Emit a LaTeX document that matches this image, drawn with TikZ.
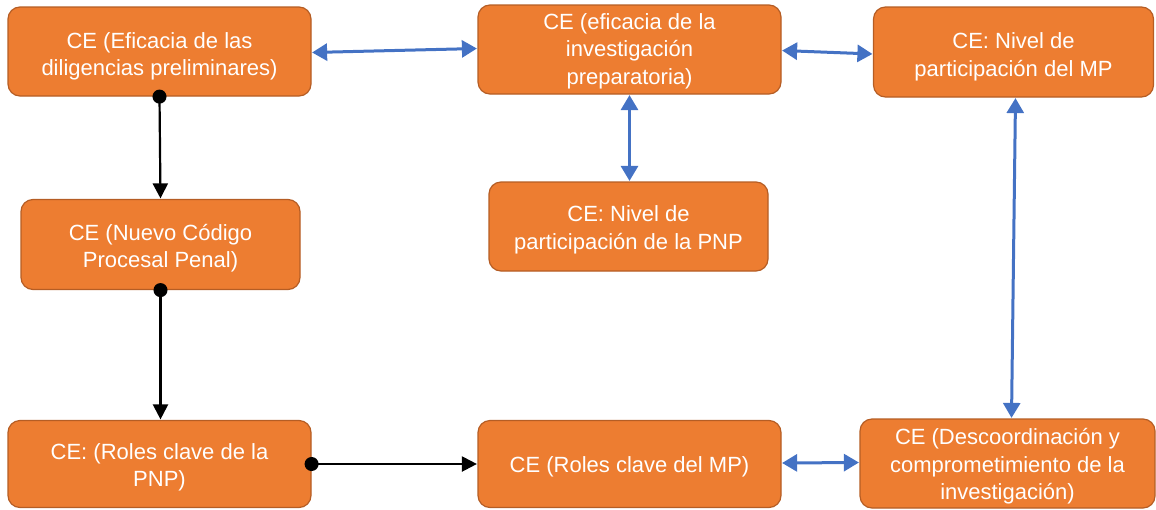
\documentclass[tikz,border=0pt]{standalone}
\usepackage{fontspec}
\setmainfont{Liberation Sans}
\usetikzlibrary{arrows.meta}
\definecolor{boxfill}{HTML}{ED7D31}
\definecolor{boxline}{HTML}{B55D24}
\definecolor{linkblue}{HTML}{4472C4}
\tikzset{
  cebox/.style={draw=boxline, line width=1.2pt, fill=boxfill, rounded corners=12pt, inner sep=0pt},
  celabel/.style={text=white, align=center, inner sep=0pt,
    font=\fontsize{22}{27.5}\selectfont},
  bilink/.style={draw=linkblue, line width=3pt, {Triangle[width=17pt,length=15pt]}-{Triangle[width=17pt,length=15pt]}, shorten <=0.5pt, shorten >=0.5pt},
  seqlink/.style={draw=black, line width=2.2pt, {Circle[length=14pt]}-{Triangle[width=15pt,length=15pt]}, shorten <=-7pt, shorten >=0.5pt}
}
\begin{document}
\begin{tikzpicture}[x=1pt,y=-1pt]
\useasboundingbox (0,0) rectangle (1156,509);
\node[cebox, minimum width=303pt, minimum height=89pt,
  label={[celabel, yshift=-5pt]center:{CE (Eficacia de las\\diligencias preliminares)}}] (b1) at (159.5,51.5) {};
\node[cebox, minimum width=303pt, minimum height=89pt,
  label={[celabel, yshift=-1.5pt]center:{CE (eficacia de la\\investigación\\preparatoria)}}] (b2) at (629.5,49.5) {};
\node[cebox, minimum width=280pt, minimum height=90pt,
  label={[celabel, yshift=-5pt]center:{CE: Nivel de\\participación del MP}}] (b3) at (1013.5,52) {};
\node[cebox, minimum width=279pt, minimum height=89pt,
  label={[celabel, yshift=-3.5pt]center:{CE: Nivel de\\participación de la PNP}}] (b4) at (628.5,226.5) {};
\node[cebox, minimum width=279pt, minimum height=90pt,
  label={[celabel, yshift=-3.5pt]center:{CE (Nuevo Código\\Procesal Penal)}}] (b5) at (160.5,244.5) {};
\node[cebox, minimum width=303pt, minimum height=87pt,
  label={[celabel, yshift=-3.5pt]center:{CE: (Roles clave de la\\PNP)}}] (b6) at (159.5,464) {};
\node[cebox, minimum width=303pt, minimum height=87pt,
  label={[celabel, yshift=-3pt]center:{CE (Roles clave del MP)}}] (b7) at (629.5,464) {};
\node[cebox, minimum width=295pt, minimum height=89pt,
  label={[celabel, yshift=-3pt]center:{CE (Descoordinación y\\comprometimiento de la\\investigación)}}] (b8) at (1007.5,463.5) {};
% blue bidirectional links
\draw[bilink] ([yshift=-1pt]b1.east) -- ([yshift=1pt]b2.west);
\draw[bilink] ([yshift=-1pt]b2.east) -- ([yshift=-2pt]b3.west);
\draw[bilink] (b2.south) -- ([xshift=1pt]b4.north);
\draw[bilink] ([xshift=2pt]b3.south) -- ([xshift=4pt]b8.north);
\draw[bilink] ([yshift=1pt]b7.east) -- ([yshift=1pt]b8.west);
% black sequence links
\draw[seqlink] (b1.south) -- (b5.north);
\draw[seqlink] (b5.south) -- (b6.north -| b5.south);
\draw[seqlink] (b6.east) -- (b7.west);
\end{tikzpicture}
\end{document}
